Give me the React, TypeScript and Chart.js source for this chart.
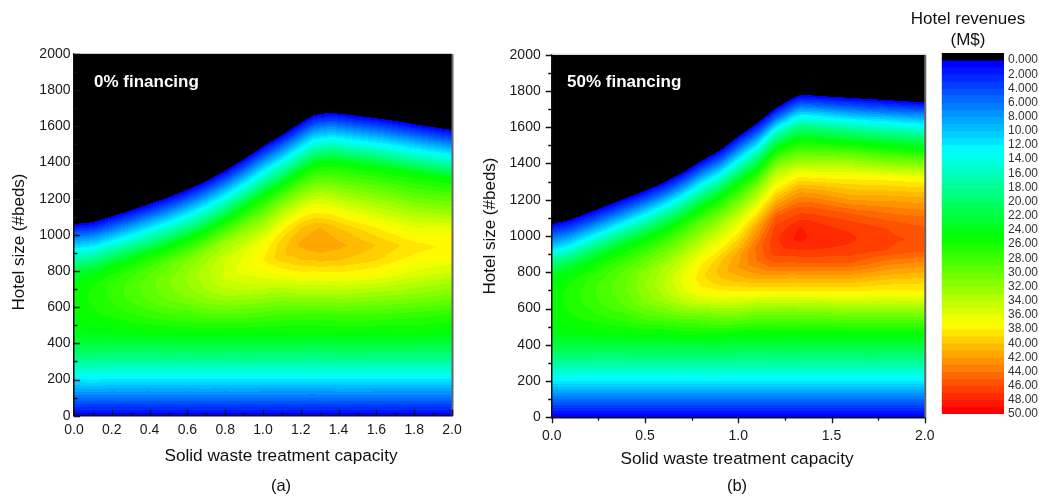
import React, { useEffect, useRef } from 'react';
import { Chart, registerables } from 'chart.js';

Chart.register(...registerables);

// ---------- DATA ----------
// Columns of solid-waste treatment capacity at which revenue profiles were read
const capacityColsA = [0, 0.2, 0.4, 0.6, 0.8, 1.0, 1.1, 1.2, 1.3, 1.4, 1.6, 1.8, 2.0];
// Each profile: [hotel size (#beds), hotel revenues (M$)], last knot = feasibility limit
const revenueA: number[][][] = [
  [[0,0],[100,6],[210,12.5],[300,17.5],[380,21.5],[460,24],[560,25],[660,25.3],[740,24.6],[800,22],[860,17.5],[920,12.5],[1000,5.5],[1060,0]],
  [[0,0],[100,6],[210,12.5],[300,17.5],[380,21.5],[460,24.3],[560,26.3],[660,27.3],[740,27.2],[828,24.5],[900,18.5],[963,12.5],[1040,5.5],[1103,0]],
  [[0,0],[100,6],[210,12.5],[300,17.5],[380,21.5],[460,24.8],[560,27.5],[660,29.5],[740,29.6],[820,28.3],[897,25],[965,18.5],[1032,12.5],[1110,5.5],[1172,0]],
  [[0,0],[100,6],[210,12.5],[300,17.5],[380,21.5],[460,25],[560,28.3],[660,31.3],[760,32.3],[860,31],[975,25],[1043,18.5],[1110,12.5],[1188,5.5],[1250,0]],
  [[0,0],[100,6],[210,12.5],[300,17.5],[380,21.5],[460,25],[560,29],[660,33],[760,35.2],[860,35],[960,32.5],[1080,25],[1148,18.5],[1215,12.5],[1293,5.5],[1355,0]],
  [[0,0],[100,6],[210,12.5],[300,17.5],[380,21.5],[460,25],[560,28.5],[660,32.5],[760,36],[860,38],[960,36.8],[1100,31],[1215,25],[1283,18.5],[1350,12.5],[1428,5.5],[1490,0]],
  [[0,0],[100,6],[210,12.5],[300,17.5],[380,21.5],[460,25],[560,28],[660,32],[780,37],[880,39.8],[960,39.5],[1040,37.5],[1150,32.5],[1277,25],[1345,18.5],[1412,12.5],[1490,5.5],[1552,0]],
  [[0,0],[100,6],[210,12.5],[300,17.5],[380,21.5],[460,25],[560,28],[660,32.5],[780,37.5],[860,40],[950,41.3],[1040,40],[1120,37],[1220,32],[1345,25],[1413,18.5],[1480,12.5],[1558,5.5],[1620,0]],
  [[0,0],[100,6],[210,12.5],[300,17.5],[380,21.5],[460,25],[560,28],[660,32.5],[780,37.5],[850,40],[945,42],[1040,41],[1110,38.5],[1200,35],[1300,29.5],[1393,25],[1461,18.5],[1528,12.5],[1606,5.5],[1668,0]],
  [[0,0],[100,6],[210,12.5],[300,17.5],[380,21.5],[460,25],[560,28],[660,32.5],[780,37.5],[860,40],[945,41.3],[1030,40.3],[1110,37.8],[1200,34],[1300,29.5],[1401,25],[1469,18.5],[1536,12.5],[1614,5.5],[1676,0]],
  [[0,0],[100,6],[210,12.5],[300,17.5],[380,21.5],[460,25],[560,28],[660,32],[780,37],[870,39.3],[945,40],[1040,38],[1150,34],[1250,30],[1370,25],[1438,18.5],[1505,12.5],[1583,5.5],[1645,0]],
  [[0,0],[100,6],[210,12.5],[300,17.5],[380,21.5],[460,25],[560,27.5],[660,31.5],[780,35.5],[880,37.8],[940,38.5],[1040,36],[1130,33],[1230,29],[1337,25],[1405,18.5],[1472,12.5],[1550,5.5],[1612,0]],
  [[0,0],[100,6],[210,12.5],[300,17.5],[380,21.5],[460,24.5],[560,27],[660,30.5],[780,34.5],[880,37.3],[950,37.8],[1030,36.5],[1120,32.5],[1210,29],[1305,25],[1373,18.5],[1440,12.5],[1518,5.5],[1580,0]],
];
// Feasibility limit (top of coloured area)
const limitCapA = [0, 0.1, 0.2, 0.3, 0.4, 0.5, 0.6, 0.7, 0.8, 0.9, 1.0, 1.1, 1.2, 1.27, 1.36, 1.5, 1.6, 1.7, 1.8, 1.9, 2.0];
const limitBedsA = [1060, 1070, 1103, 1136, 1172, 1208, 1250, 1298, 1355, 1420, 1490, 1552, 1620, 1663, 1676, 1658, 1645, 1630, 1612, 1596, 1580];

const capacityColsB = [0, 0.2, 0.4, 0.6, 0.8, 1.0, 1.1, 1.2, 1.333, 1.4, 1.6, 1.8, 2.0];
const revenueB: number[][][] = [
  [[0,0],[100,6],[210,12.5],[300,17.5],[380,21.5],[463,24.2],[540,25],[620,25.4],[700,25.2],[780,23.8],[850,19.5],[914,12.5],[1000,5.5],[1066,0]],
  [[0,0],[100,6],[210,12.5],[300,17.5],[380,21.5],[463,24.6],[540,26.2],[620,27.3],[700,27.6],[780,26.9],[855,24.3],[925,19],[990,12.5],[1065,5.5],[1130,0]],
  [[0,0],[100,6],[210,12.5],[300,17.5],[380,21.5],[463,25],[540,27.3],[620,29.2],[700,30],[780,29.8],[860,28],[940,25],[1010,19],[1075,12.5],[1148,5.5],[1210,0]],
  [[0,0],[100,6],[210,12.5],[300,17.5],[380,21.5],[463,25],[574,30],[660,33],[740,34],[830,33],[930,29.5],[1030,25],[1100,19],[1165,12.5],[1235,5.5],[1295,0]],
  [[0,0],[100,6],[210,12.5],[300,17.5],[380,21.5],[463,25.5],[560,30],[640,35],[720,38],[780,38.7],[850,37.8],[950,34.5],[1060,30],[1150,25],[1220,19],[1285,12.5],[1355,5.5],[1413,0]],
  [[0,0],[100,6],[210,12.5],[300,17.5],[380,21.5],[463,25],[574,31.5],[684,37.5],[760,40.5],[830,42],[900,41.5],[1000,38.5],[1100,35],[1200,30],[1290,25],[1355,19],[1419,12.5],[1490,5.5],[1550,0]],
  [[0,0],[100,6],[210,12.5],[300,17.5],[380,21.5],[463,25],[592,31.5],[684,37.5],[776,41.5],[860,44],[940,44.3],[1051,41.5],[1143,37.5],[1254,32],[1364,25],[1430,19],[1493,12.5],[1562,5.5],[1622,0]],
  [[0,0],[100,6],[210,12.5],[300,17.5],[380,21.5],[463,25],[592,31.5],[684,37.5],[776,41.5],[849,45],[910,46.5],[980,46.8],[1040,46.5],[1107,45],[1180,41.5],[1254,38],[1364,33],[1474,25],[1535,19],[1594,12.5],[1650,5.5],[1705,0]],
  [[0,0],[100,6],[210,12.5],[300,17.5],[380,21.5],[463,25],[592,31.5],[684,37.5],[776,41.5],[849,45],[923,47],[990,48.5],[1040,48.2],[1088,47],[1162,45],[1254,41.5],[1336,37.5],[1419,32],[1529,25],[1600,19],[1662,12.5],[1722,5.5],[1778,0]],
  [[0,0],[100,6],[210,12.5],[300,17.5],[380,21.5],[463,25],[592,31.5],[684,37.5],[776,41.5],[849,45],[923,47],[1000,47.6],[1085,47],[1160,45],[1250,41.5],[1330,37.5],[1419,32],[1527,25],[1597,19],[1660,12.5],[1720,5.5],[1775,0]],
  [[0,0],[100,6],[210,12.5],[300,17.5],[380,21.5],[463,25],[574,31],[684,37.5],[776,41.5],[849,45],[923,46.8],[990,47.2],[1050,46.8],[1125,45],[1199,42],[1272,39.5],[1327,37.5],[1419,32],[1511,25],[1578,19],[1640,12.5],[1705,5.5],[1762,0]],
  [[0,0],[100,6],[210,12.5],[300,17.5],[380,21.5],[463,25],[574,31],[690,37.5],[760,40],[840,43],[923,46],[980,46.2],[1040,46],[1110,44.5],[1210,41.5],[1320,37.5],[1410,31],[1495,25],[1562,19],[1628,12.5],[1693,5.5],[1750,0]],
  [[0,0],[100,6],[210,12.5],[300,17.5],[380,21.5],[463,25],[574,31],[684,37.5],[739,39],[831,42],[923,45.3],[980,45.8],[1033,45.3],[1107,44],[1199,41.5],[1309,37.5],[1401,31],[1474,25],[1548,19],[1612,12.5],[1676,6.5],[1737,0]],
];
const limitCapB = [0, 0.1, 0.2, 0.3, 0.4, 0.5, 0.6, 0.7, 0.8, 0.9, 1.0, 1.1, 1.2, 1.3, 1.333, 1.4, 1.5, 1.6, 1.7, 1.8, 1.9, 2.0];
const limitBedsB = [1066, 1090, 1130, 1170, 1210, 1250, 1295, 1348, 1413, 1470, 1550, 1622, 1705, 1765, 1778, 1775, 1768, 1762, 1755, 1750, 1743, 1737];

// Colour-scale fill levels (M$) and the labelled levels on the colour bar
const fillLevels = [0,1,2,3,4,5,6,7,8,9,10,11,12,13,14,15,16,17,18,19,20,21,22,23,24,25,26,27,28,29,30,31,32,33,34,35,36,37,38,39,40,41,42,43,44,45,46,47,48,49,50];
const colorbarTicks = [0, 2, 4, 6, 8, 10, 12, 14, 16, 18, 20, 22, 24, 26, 28, 30, 32, 34, 36, 38, 40, 42, 44, 46, 48, 50];

// ---------- helpers ----------
const FONT = "'Liberation Sans', Arial, Helvetica, sans-serif";

function hsv(h: number): [number, number, number] {
  const x = 1 - Math.abs(((h / 60) % 2) - 1);
  let r = 0, g = 0, b = 0;
  if (h < 60) { r = 1; g = x; }
  else if (h < 120) { r = x; g = 1; }
  else if (h < 180) { g = 1; b = x; }
  else { g = x; b = 1; }
  return [Math.round(r * 255), Math.round(g * 255), Math.round(b * 255)];
}
const nBands = fillLevels.length - 1;
const bandRGB: [number, number, number][] = Array.from({ length: nBands }, (_, i) => hsv(240 * (1 - i / (nBands - 1))));
const bandCss = bandRGB.map(([r, g, b]) => `rgb(${r},${g},${b})`);

function interp(xs: number[], ys: number[], x: number) {
  if (x <= xs[0]) return ys[0];
  for (let i = 1; i < xs.length; i++) {
    if (x <= xs[i]) return ys[i - 1] + (ys[i] - ys[i - 1]) * (x - xs[i - 1]) / (xs[i] - xs[i - 1]);
  }
  return ys[ys.length - 1];
}
function evalProfile(p: number[][], y: number) {
  if (y <= p[0][0]) return p[0][1];
  for (let i = 1; i < p.length; i++) {
    if (y <= p[i][0]) {
      const [y0, v0] = p[i - 1];
      const [y1, v1] = p[i];
      return v0 + (v1 - v0) * (y - y0) / (y1 - y0);
    }
  }
  return p[p.length - 1][1];
}
function bandOf(v: number) {
  let k = 0;
  while (k < nBands - 1 && v >= fillLevels[k + 1]) k++;
  return k;
}

function makeContourPlugin(cols: number[], profiles: number[][][], limX: number[], limY: number[]) {
  return {
    id: 'contourField',
    beforeDraw(chart: any) {
      const { ctx, chartArea: a, scales } = chart;
      const xs = scales.x, ys = scales.y;
      const left = Math.round(a.left), top = Math.round(a.top);
      const w = Math.round(a.right) - left, h = Math.round(a.bottom) - top;
      const off = document.createElement('canvas');
      off.width = w; off.height = h;
      const octx = off.getContext('2d')!;
      const img = octx.createImageData(w, h);
      const d = img.data;
      for (let i = 0; i < w; i++) {
        const xv = xs.getValueForPixel(left + i + 0.5);
        const B = interp(limX, limY, xv);
        let j = 0;
        while (j < cols.length - 2 && xv > cols[j + 1]) j++;
        let f = (xv - cols[j]) / (cols[j + 1] - cols[j]);
        f = Math.max(0, Math.min(1, f));
        const p0 = profiles[j], p1 = profiles[j + 1];
        const B0 = p0[p0.length - 1][0], B1 = p1[p1.length - 1][0];
        for (let r = 0; r < h; r++) {
          const yv = ys.getValueForPixel(top + r + 0.5);
          const idx = (r * w + i) * 4;
          d[idx + 3] = 255;
          if (yv > B) { d[idx] = 0; d[idx + 1] = 0; d[idx + 2] = 0; continue; }
          const t = Math.max(0, yv) / B;
          const v = (1 - f) * evalProfile(p0, t * B0) + f * evalProfile(p1, t * B1);
          const c = bandRGB[bandOf(v)];
          d[idx] = c[0]; d[idx + 1] = c[1]; d[idx + 2] = c[2];
        }
      }
      octx.putImageData(img, 0, 0);
      ctx.drawImage(off, left, top);
    },
  };
}

function makeDecorPlugin(o: {
  inside: boolean; label: string; labelDx: number; labelDy: number;
  xTitleX: number; xTitleY: number; subY: number; sub: string; yTitleX: number; yTitleY: number;
}) {
  return {
    id: 'decor',
    afterDraw(chart: any) {
      const { ctx, chartArea: a, scales } = chart;
      const xs = scales.x, ys = scales.y;
      ctx.save();
      // frame right/top
      ctx.strokeStyle = '#666'; ctx.lineWidth = 2;
      ctx.beginPath(); ctx.moveTo(a.right + 0.5, a.top); ctx.lineTo(a.right + 0.5, a.bottom); ctx.stroke();
      ctx.strokeStyle = '#cfcfcf'; ctx.lineWidth = 1;
      ctx.beginPath(); ctx.moveTo(a.left, a.top - 0.5); ctx.lineTo(a.right, a.top - 0.5); ctx.stroke();
      // tick marks (major at library ticks, minor halfway)
      ctx.strokeStyle = '#111'; ctx.lineWidth = 1.3;
      const dir = o.inside ? -1 : 1;
      const xt = xs.ticks.map((t: any) => t.value);
      const yt = ys.ticks.map((t: any) => t.value);
      const xMarks: [number, number][] = [];
      xt.forEach((v: number, k: number) => { xMarks.push([v, 6]); if (k < xt.length - 1) xMarks.push([(v + xt[k + 1]) / 2, 3.5]); });
      const yMarks: [number, number][] = [];
      yt.forEach((v: number, k: number) => { yMarks.push([v, 6]); if (k < yt.length - 1) yMarks.push([(v + yt[k + 1]) / 2, 3.5]); });
      ctx.beginPath();
      xMarks.forEach(([v, len]) => {
        const px = Math.round(xs.getPixelForValue(v)) + 0.5;
        ctx.moveTo(px, a.bottom); ctx.lineTo(px, a.bottom + dir * len);
      });
      yMarks.forEach(([v, len]) => {
        const py = Math.round(ys.getPixelForValue(v)) + 0.5;
        ctx.moveTo(a.left, py); ctx.lineTo(a.left - dir * len, py);
      });
      ctx.stroke();
      // panel label
      ctx.fillStyle = '#fff';
      ctx.font = `bold 17px ${FONT}`;
      ctx.textAlign = 'left'; ctx.textBaseline = 'middle';
      ctx.fillText(o.label, a.left + o.labelDx, a.top + o.labelDy);
      // axis titles
      ctx.fillStyle = '#111';
      ctx.font = `17.2px ${FONT}`;
      ctx.textAlign = 'center';
      ctx.fillText('Solid waste treatment capacity', o.xTitleX, o.xTitleY);
      ctx.font = `16.5px ${FONT}`;
      ctx.fillText(o.sub, o.xTitleX, o.subY);
      ctx.font = `17px ${FONT}`;
      ctx.translate(o.yTitleX, o.yTitleY);
      ctx.rotate(-Math.PI / 2);
      ctx.fillText('Hotel size (#beds)', 0, 0);
      ctx.restore();
    },
  };
}

function panelConfig(p: {
  cols: number[]; profiles: number[][][]; limX: number[]; limY: number[]; xStep: number;
  yWidth: number; xHeight: number; padTop: number; padRight: number; yPad: number; xPad: number;
  decor: any;
}) {
  return {
    type: 'scatter' as const,
    data: { datasets: [] as any[] },
    options: {
      responsive: false,
      animation: false as const,
      layout: { padding: { top: p.padTop, right: p.padRight, left: 0, bottom: 0 } },
      plugins: { legend: { display: false }, tooltip: { enabled: false }, title: { display: false } },
      scales: {
        x: {
          type: 'linear' as const, min: 0, max: 2,
          ticks: { stepSize: p.xStep, callback: (v: any) => Number(v).toFixed(1), font: { size: 14, family: FONT }, color: '#1a1a1a', padding: p.xPad, maxRotation: 0, autoSkip: false },
          grid: { display: false, drawTicks: false },
          border: { display: true, color: '#111', width: 1.5 },
          afterFit: (s: any) => { s.height = p.xHeight; },
        },
        y: {
          type: 'linear' as const, min: 0, max: 2000,
          ticks: { stepSize: 200, callback: (v: any) => String(v), font: { size: 14, family: FONT }, color: '#1a1a1a', padding: p.yPad, autoSkip: false },
          grid: { display: false, drawTicks: false },
          border: { display: true, color: '#111', width: 1.5 },
          afterFit: (s: any) => { s.width = p.yWidth; },
        },
      },
    },
    plugins: [makeContourPlugin(p.cols, p.profiles, p.limX, p.limY), makeDecorPlugin(p.decor)],
  };
}

const colorbarTitlePlugin = {
  id: 'cbTitle',
  afterDraw(chart: any) {
    const { ctx } = chart;
    ctx.save();
    ctx.fillStyle = '#111';
    ctx.font = `17px ${FONT}`;
    ctx.textAlign = 'center'; ctx.textBaseline = 'middle';
    ctx.fillText('Hotel revenues', 71, 19);
    ctx.fillText('(M$)', 71, 40);
    ctx.restore();
  },
};

function colorbarConfig() {
  const datasets: any[] = [{ data: [[-1, fillLevels[0]]], backgroundColor: '#000' }];
  for (let i = 0; i < nBands; i++) {
    datasets.push({ data: [[fillLevels[i], fillLevels[i + 1]]], backgroundColor: bandCss[i] });
  }
  return {
    type: 'bar' as const,
    data: { labels: [''], datasets },
    options: {
      responsive: false,
      animation: false as const,
      layout: { padding: { left: 44.7, top: 53, bottom: 84, right: 0 } },
      plugins: { legend: { display: false }, tooltip: { enabled: false } },
      datasets: { bar: { grouped: false, barPercentage: 1, categoryPercentage: 1, borderWidth: 0 } },
      scales: {
        x: { display: false },
        y: {
          position: 'right' as const, reverse: true, min: -1, max: 50,
          afterBuildTicks: (s: any) => { s.ticks = colorbarTicks.map((v) => ({ value: v })); },
          ticks: { callback: (v: any) => (v < 10 ? Number(v).toFixed(3) : Number(v).toFixed(2)), font: { size: 12, family: FONT }, color: '#333', padding: 4, autoSkip: false },
          grid: { display: false, drawTicks: false },
          border: { display: false },
          afterFit: (s: any) => { s.width = 35; },
        },
      },
    },
    plugins: [colorbarTitlePlugin],
  };
}

export default function App() {
  const refA = useRef<HTMLCanvasElement>(null);
  const refB = useRef<HTMLCanvasElement>(null);
  const refC = useRef<HTMLCanvasElement>(null);

  useEffect(() => {
    document.body.style.margin = '0';
    Chart.defaults.font.family = FONT;
    const ca = new Chart(refA.current!, panelConfig({
      cols: capacityColsA, profiles: revenueA, limX: limitCapA, limY: limitBedsA, xStep: 0.2,
      yWidth: 74, xHeight: 82.3, padTop: 54, padRight: 18, yPad: 3.5, xPad: 6,
      decor: { inside: true, label: '0% financing', labelDx: 20, labelDy: 28, xTitleX: 281, xTitleY: 456, subY: 486, sub: '(a)', yTitleX: 19, yTitleY: 242 },
    }) as any);
    const cb = new Chart(refB.current!, panelConfig({
      cols: capacityColsB, profiles: revenueB, limX: limitCapB, limY: limitBedsB, xStep: 0.5,
      yWidth: 81.7, xHeight: 80.7, padTop: 54.7, padRight: 18.3, yPad: 11, xPad: 10.5,
      decor: { inside: false, label: '50% financing', labelDx: 15.3, labelDy: 27.3, xTitleX: 267, xTitleY: 459, subY: 486, sub: '(b)', yTitleX: 20, yTitleY: 226 },
    }) as any);
    const cc = new Chart(refC.current!, colorbarConfig() as any);
    return () => { ca.destroy(); cb.destroy(); cc.destroy(); };
  }, []);

  return (
    <div style={{ position: 'relative', width: 1039, height: 498, background: '#fff', overflow: 'hidden' }}>
      <canvas ref={refA} width={470} height={498} style={{ position: 'absolute', left: 0, top: 0 }} />
      <canvas ref={refB} width={475} height={498} style={{ position: 'absolute', left: 470, top: 0 }} />
      <canvas ref={refC} width={142} height={498} style={{ position: 'absolute', left: 897, top: 0 }} />
    </div>
  );
}
